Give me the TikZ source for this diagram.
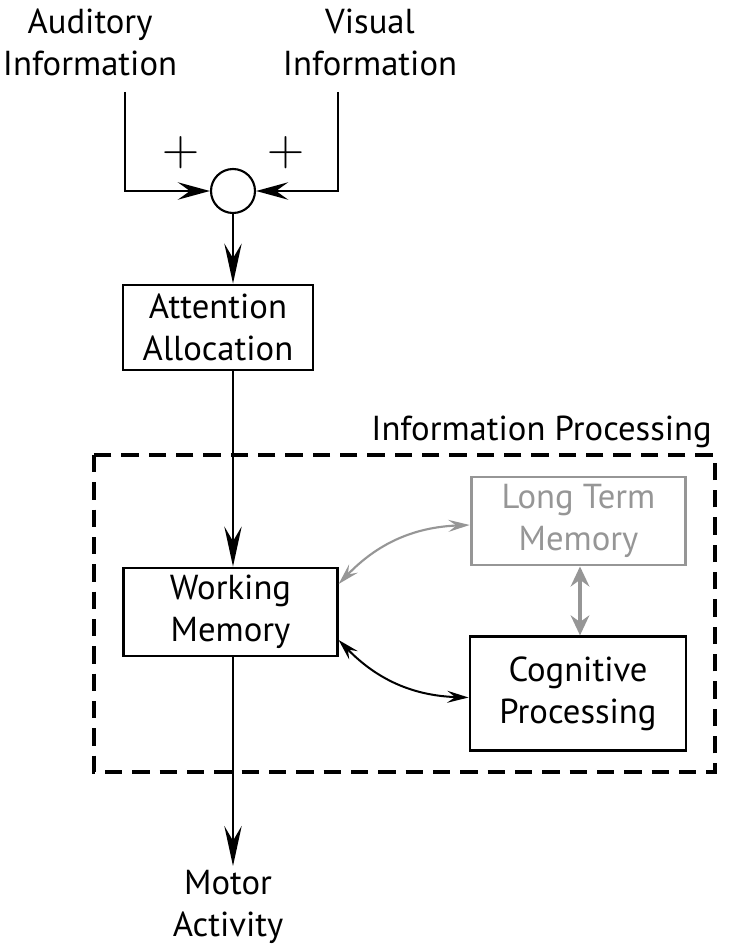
\documentclass[tikz,border=0pt]{standalone}
\usepackage{fontspec}
\usepackage{graphicx}
\setmainfont{PT Sans}
\usetikzlibrary{arrows.meta,calc}
\definecolor{ltgray}{RGB}{150,150,150}
\begin{document}
\begin{tikzpicture}[x=0.75pt,y=-0.75pt,
  txt/.style={align=center, font=\fontsize{26}{31.5}\selectfont, inner sep=0pt},
  box/.style={draw, line width=2.2pt, align=center, font=\fontsize{26}{31.5}\selectfont, inner sep=0pt},
  main/.style={line width=2.2pt},
  bigtip/.style={-{Stealth[length=30pt,width=13pt,inset=11pt]}},
  sidetip/.style={-{Stealth[length=24pt,width=13pt,inset=9pt]}},
  curvetip/.style={{Stealth[length=16pt,width=9pt,inset=6pt]}-{Stealth[length=16pt,width=9pt,inset=6pt]}},
  graytip/.style={{Stealth[length=15pt,width=14pt,inset=5pt]}-{Stealth[length=15pt,width=14pt,inset=5pt]}},
]
\useasboundingbox (0,0) rectangle (742,949);

% texts
\node[txt] (aud) at (90,42) {Auditory\\Information};
\node[txt] (vis) at (370,42) {Visual\\Information};
\node[txt] (plusl) at (181,153) {\scalebox{1.55}{$+$}};
\node[txt] (plusr) at (286,153) {\scalebox{1.55}{$+$}};
\node[txt, anchor=east] (iplab) at (712,432) {Information Processing};
\node[txt] (motor) at (228,907) {Motor\\Activity};

% summing junction
\node[draw, circle, line width=1.6pt, minimum size=33pt, inner sep=0pt] (sum) at (233,191) {};

% boxes
\node[box, minimum width=142.5pt, minimum height=63.75pt] (att) at (218,327.5) {Attention\\Allocation};
\node[box, minimum width=160pt, minimum height=66pt] (wm) at (230.5,612) {Working\\Memory};
\node[box, draw=ltgray, text=ltgray, minimum width=161pt, minimum height=66pt] (ltm) at (578.5,521) {Long Term\\Memory};
\node[box, minimum width=162pt, minimum height=85pt] (cp) at (578,693.5) {Cognitive\\Processing};

% dashed frame
\draw[line width=2.5pt, dash pattern=on 13pt off 7.5pt] (94,455) rectangle (715,772);

% inputs
\coordinate (audtop) at (125,92);
\coordinate (vistop) at (338,92);
\draw[main, sidetip] (audtop) |- (sum.west);
\draw[main, sidetip] (vistop) |- (sum.east);

% main flow
\draw[main, bigtip] (sum.south) -- (sum.south |- att.north);
\coordinate (attout) at (233,370);
\draw[main, bigtip] (attout |- att.south) -- (attout |- wm.north);
\draw[main, bigtip] (attout |- wm.south) -- (233,866);

% curved links
\draw[line width=1.6pt, ltgray, curvetip] ([yshift=-3pt]ltm.west) to[bend right=22] ([yshift=21pt]wm.east);
\draw[line width=1.5pt, curvetip] ([yshift=-21pt]wm.east) to[bend right=22] ([yshift=-3pt]cp.west);
\draw[line width=2.4pt, ltgray, graytip] (580,0 |- ltm.south) -- (580,0 |- cp.north);
\end{tikzpicture}
\end{document}
